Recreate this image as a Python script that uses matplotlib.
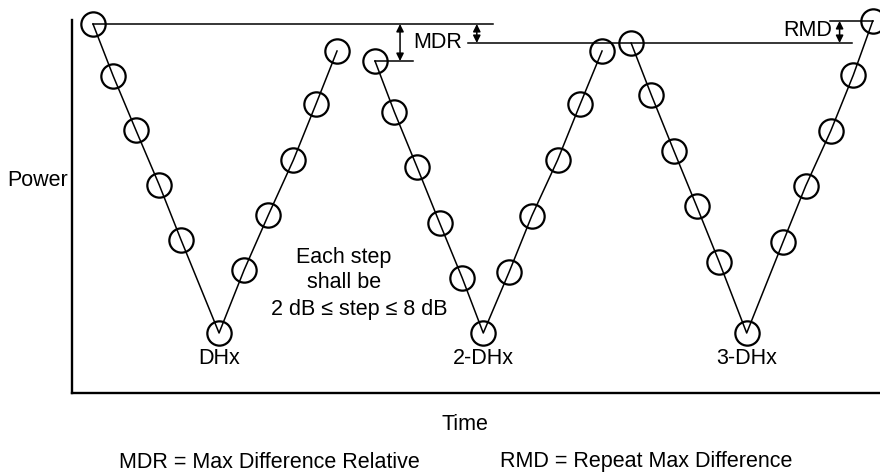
import matplotlib
matplotlib.use("Agg")
import matplotlib.pyplot as plt

plt.rcParams['font.family'] = ['Liberation Sans', 'DejaVu Sans']

# three power bursts: time (arbitrary units) and power (dB, relative to first peak)
burst1_time = [2.6, 5.1, 7.9, 10.8, 13.5, 18.2, 21.3, 24.3, 27.4, 30.2, 32.8]
burst1_power = [0.0, -5.2, -10.6, -16.1, -21.6, -30.9, -24.6, -19.1, -13.6, -8.0, -2.7]
burst2_time = [37.5, 39.9, 42.7, 45.5, 48.3, 50.9, 54.1, 56.9, 60.1, 62.9, 65.6]
burst2_power = [-3.7, -8.8, -14.3, -19.9, -25.4, -30.9, -24.8, -19.2, -13.6, -8.0, -2.7]
burst3_time = [69.2, 71.7, 74.5, 77.3, 80.1, 83.5, 88.0, 90.8, 93.9, 96.7, 99.1]
burst3_power = [-1.9, -7.1, -12.7, -18.2, -23.8, -30.9, -21.8, -16.2, -10.7, -5.1, 0.3]
bottom_labels = ['DHx', '2-DHx', '3-DHx']

bursts = [(burst1_time, burst1_power), (burst2_time, burst2_power), (burst3_time, burst3_power)]

fs = 15.5
fig = plt.figure(figsize=(8.8, 4.75), dpi=100)
ax = fig.add_axes([72 / 880, 82 / 475, 808 / 880, 373 / 475])
ax.set_xlim(0, 100)
ax.set_ylim(-36.9, 0.4)
for s in ['top', 'right']:
    ax.spines[s].set_visible(False)
for s in ['left', 'bottom']:
    ax.spines[s].set_linewidth(1.7)
ax.set_xticks([])
ax.set_yticks([])

for (t, p), lab in zip(bursts, bottom_labels):
    ax.plot(t, p, color='black', lw=1.1, marker='o', ms=17.5, mfc='none',
            mec='black', mew=1.6, clip_on=False)
    i = p.index(min(p))
    ax.text(t[i], p[i] - 2.6, lab, ha='center', va='center', fontsize=fs)

# reference levels
peak1 = burst1_power[0]
start2 = burst2_power[0]
start3 = burst3_power[0]
end3 = burst3_power[-1]
ref = dict(color='black', lw=1.1)
ax.plot([burst1_time[0], 52.1], [peak1, peak1], **ref)
ax.plot([burst2_time[0], 42.2], [start2, start2], **ref)
ax.plot([49.0, 96.5], [start3, start3], **ref)
ax.plot([93.8, burst3_time[-1]], [end3, end3], **ref, clip_on=False)

arrow = dict(arrowstyle='<|-|>', color='black', lw=1.1, mutation_scale=11,
             shrinkA=0, shrinkB=0)
ax.annotate('', xy=(40.6, peak1), xytext=(40.6, start2), arrowprops=arrow)
ax.annotate('', xy=(50.1, peak1), xytext=(50.1, start3), arrowprops=arrow)
ax.annotate('', xy=(95.0, end3), xytext=(95.0, start3), arrowprops=arrow)
ax.text(45.2, -1.85, 'MDR', ha='center', va='center', fontsize=fs)
ax.text(91.0, -0.65, 'RMD', ha='center', va='center', fontsize=fs)

ax.text(33.6, -23.3, 'Each step', ha='center', va='center', fontsize=fs)
ax.text(33.7, -25.9, 'shall be', ha='center', va='center', fontsize=fs)
ax.text(35.5, -28.5, '2 dB \u2264 step \u2264 8 dB', ha='center', va='center', fontsize=fs)

fig.text(68 / 880, 1 - 180 / 475, 'Power', ha='right', va='center', fontsize=fs)
fig.text(465 / 880, 1 - 424 / 475, 'Time', ha='center', va='center', fontsize=fs)
fig.text(269 / 880, 1 - 462 / 475, 'MDR = Max Difference Relative', ha='center', va='center', fontsize=fs)
fig.text(646 / 880, 1 - 462 / 475, 'RMD = Repeat Max Difference', ha='center', va='center', fontsize=fs)

fig.savefig('out.png', dpi=100)
